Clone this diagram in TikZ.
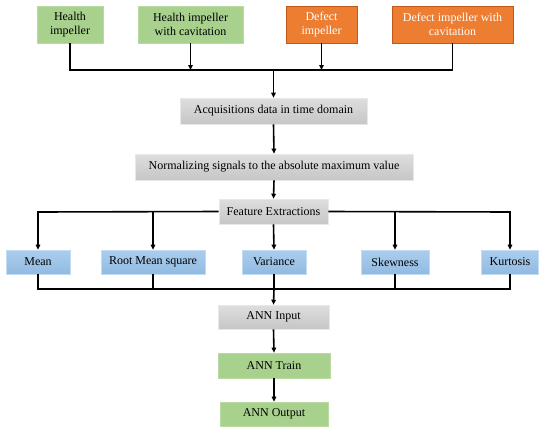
\documentclass[tikz,border=0pt]{standalone}
\usepackage{fontspec}
\setmainfont{Liberation Serif}
\usetikzlibrary{arrows.meta}
\definecolor{gfill}{HTML}{A9D18E}
\definecolor{gdraw}{HTML}{B9DBA2}
\definecolor{ofill}{HTML}{ED7D31}
\definecolor{odraw}{HTML}{C0591A}
\definecolor{graytop}{HTML}{DEDEDE}
\definecolor{graybot}{HTML}{C6C6C6}
\definecolor{bluetop}{HTML}{AACDEC}
\definecolor{bluebot}{HTML}{92BBE3}
\begin{document}
\begin{tikzpicture}[x=1pt,y=-1pt,
  box/.style={draw, line width=0.6pt, inner sep=0pt, align=center,
    font=\fontsize{12}{14.5}\selectfont, text=black},
  greenbox/.style={box, fill=gfill, draw=gdraw},
  orangebox/.style={box, fill=ofill, draw=odraw, line width=0.9pt, text=white},
  graybox/.style={box, top color=graytop, bottom color=graybot, draw=graytop!70!white},
  bluebox/.style={box, top color=bluetop, bottom color=bluebot, draw=bluetop!70!white},
  conn/.style={line width=1.6pt, black},
  arr/.style={conn, -{Triangle[length=5pt,width=4.5pt]}}]
\useasboundingbox (0,0) rectangle (550,432);

% top row
\node[greenbox, minimum width=66pt, minimum height=37pt] (hi) at (70,24.5) {Health\\impeller};
\node[greenbox, minimum width=105pt, minimum height=37pt] (hic) at (190.5,24.5) {Health impeller\\with cavitation};
\node[orangebox, minimum width=71pt, minimum height=37pt] (di) at (321.5,24.5) {Defect\\impeller};
\node[orangebox, minimum width=121pt, minimum height=37pt] (dic) at (452.5,24.5) {Defect impeller with\\cavitation};

% middle chain
\node[graybox, minimum width=187pt, minimum height=26pt] (acq) at (273.5,111) {Acquisitions data in time domain};
\node[graybox, minimum width=278pt, minimum height=26pt] (norm) at (274,167) {Normalizing signals to the absolute maximum value};
\node[graybox, minimum width=109pt, minimum height=25pt] (feat) at (273.5,211.5) {Feature Extractions};

% features
\node[bluebox, minimum width=64pt, minimum height=24pt] (mean) at (38,262) {Mean};
\node[bluebox, minimum width=104pt, minimum height=24pt] (rms) at (153,262) {Root Mean square};
\node[bluebox, minimum width=64pt, minimum height=24pt] (var) at (274,262) {Variance};
\node[bluebox, minimum width=68pt, minimum height=24pt] (skew) at (395,262) {Skewness};
\node[bluebox, minimum width=57pt, minimum height=24pt] (kurt) at (510,262) {Kurtosis};

% ANN
\node[graybox, minimum width=111pt, minimum height=24pt] (ain) at (273.5,317) {ANN Input};
\node[greenbox, minimum width=112pt, minimum height=25pt] (atr) at (274,365.5) {ANN Train};
\node[greenbox, minimum width=108pt, minimum height=24pt] (aout) at (274,414) {ANN Output};

% junction coordinates
\coordinate (t1) at (70,70);
\coordinate (t2) at (190.5,70);
\coordinate (tm) at (273.5,70);
\coordinate (t3) at (321.5,70);
\coordinate (t4) at (452.5,70);

\coordinate (f1) at (38,212);
\coordinate (f2) at (153,212);
\coordinate (f4) at (395,212);
\coordinate (f5) at (510,212);

\coordinate (b1) at (38,289);
\coordinate (b2) at (153,289);
\coordinate (bm) at (274,289);
\coordinate (b4) at (395,289);
\coordinate (b5) at (510,289);

% top connectors
\draw[conn] (hi.south) -- (t1) -- (t4) -- (dic.south);
\draw[arr] (hic.south) -- (t2);
\draw[arr] (di.south) -- (t3);
\draw[arr] (tm) -- (acq.north);
\draw[arr] (acq.south) -- (norm.north);
\draw[arr] (norm.south) -- (feat.north);

% feature extraction branches
\draw[arr] (feat.west) -- (f1) -- (mean.north);
\draw[arr] (f2) -- (rms.north);
\draw[arr] (feat.east) -- (f5) -- (kurt.north);
\draw[arr] (f4) -- (skew.north);
\draw[arr] (feat.south) -- (var.north);

% bottom collection
\draw[conn] (mean.south) -- (b1) -- (b5) -- (kurt.south);
\draw[conn] (rms.south) -- (b2);
\draw[conn] (skew.south) -- (b4);
\draw[conn] (var.south) -- (bm);
\draw[arr] (bm) -- (ain.north);
\draw[arr] (ain.south) -- (atr.north);
\draw[arr] (atr.south) -- (aout.north);
\end{tikzpicture}
\end{document}
